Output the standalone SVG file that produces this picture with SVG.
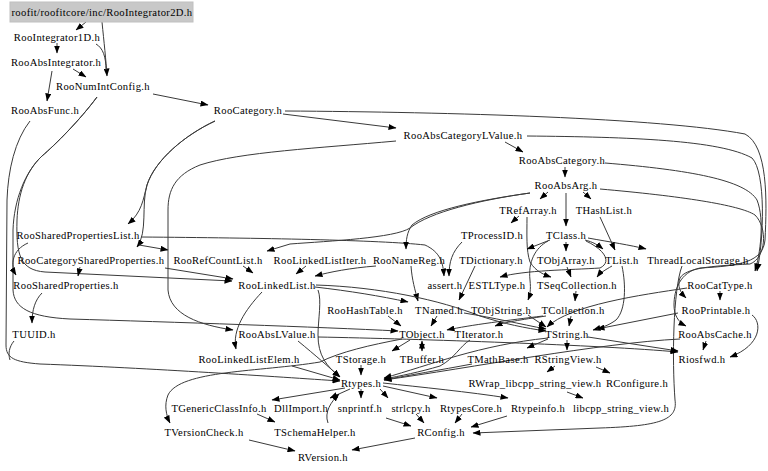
<svg xmlns="http://www.w3.org/2000/svg" width="768" height="471" viewBox="0 0 768 471">
<style>
text{font-family:"Liberation Serif","DejaVu Serif","Times New Roman",serif;font-size:10.6px;letter-spacing:0.35px;fill:#000;text-anchor:middle}
.e path{fill:none;stroke:#3a3a3a;stroke-width:1}
.root rect{fill:#c8c8c8;stroke:#c0c0c0}
</style>
<defs>
<marker id="a" markerWidth="8" markerHeight="6" refX="7.5" refY="3" orient="auto" markerUnits="userSpaceOnUse">
<path d="M0,0 L8,3 L0,6 z" fill="#000"/>
</marker>
<marker id="b" markerWidth="8" markerHeight="6" refX="0.5" refY="3" orient="auto" markerUnits="userSpaceOnUse">
<path d="M8,0 L0,3 L8,6 z" fill="#000"/>
</marker>
</defs>
<rect width="768" height="471" fill="#fff"/>
<g class="e" id="edges">
<path d="M86,22 L76,30" marker-end="url(#a)"/>
<path d="M102,22 C104,42 106,60 107,76" marker-end="url(#a)"/>
<path d="M96,44 C103,48 106,57 106,70"/>
<path d="M57,43 L57,53" marker-end="url(#a)"/>
<path d="M73,69 L86,77" marker-end="url(#a)"/>
<path d="M52,71 L47,101" marker-end="url(#a)"/>
<path d="M153,94 L208,105" marker-end="url(#a)"/>
<path d="M97,97 C80,120 55,145 42,156 C25,172 18,195 17,220 C16,255 20,270 45,272 L232,281" marker-end="url(#a)"/>
<path d="M97,97 C80,120 55,145 42,156 C25,172 14,200 13,230 L13,290 C14,308 30,317 70,319 C170,322 320,327 398,331" marker-end="url(#a)"/>
<path d="M30,121 C15,140 8,170 7,200 L6,345 C6,358 14,362 40,364 C150,368 280,377 340,381" marker-end="url(#a)"/>
<path d="M14,341 C9,347 8,354 10,360"/>
<path d="M283,114 L396,128" marker-end="url(#a)"/>
<path d="M215,121 C185,135 155,160 147,185 C143,200 142,212 128,224" marker-end="url(#a)"/>
<path d="M215,121 C185,135 155,160 147,185 C141,205 148,232 137,247" marker-end="url(#a)"/>
<path d="M139,245 L168,250" marker-end="url(#a)"/>
<path d="M141,237 C260,238 380,240 425,245 C440,252 443,262 444,276" marker-end="url(#a)"/>
<path d="M28,243 C12,250 10,265 16,275" marker-end="url(#a)"/>
<path d="M80,267 L78,276" marker-end="url(#a)"/>
<path d="M165,268 L233,279" marker-end="url(#a)"/>
<path d="M42,293 C35,300 32,310 32,323" marker-end="url(#a)"/>
<path d="M505,142 L523,152" marker-end="url(#a)"/>
<path d="M396,141 C320,148 240,152 200,165 C175,175 168,190 168,210 L168,290 C170,315 200,325 233,330" marker-end="url(#a)"/>
<path d="M527,136 C630,137 720,140 752,158 C766,172 764,240 757,271" marker-end="url(#a)"/>
<path d="M285,111 C450,112 660,118 745,134 C768,146 767,200 765,240 C763,262 740,266 700,268 C680,272 674,290 674,305 C674,315 678,322 686,326" marker-end="url(#a)"/>
<path d="M565,167 L565,177" marker-end="url(#a)"/>
<path d="M605,163 C690,170 745,180 757,200 C765,220 760,255 755,271" marker-end="url(#a)"/>
<path d="M548,192 L540,199" marker-end="url(#a)"/>
<path d="M583,192 L591,199" marker-end="url(#a)"/>
<path d="M566,193 L566,226" marker-end="url(#a)"/>
<path d="M600,189 C680,196 740,205 755,215 C768,228 766,258 750,264 C710,266 686,268 680,278 C677,286 680,292 686,298" marker-end="url(#a)"/>
<path d="M530,193 C480,200 430,210 412,225 C407,232 406,240 406,249" marker-end="url(#a)"/>
<path d="M530,193 C480,200 430,212 410,228 C395,238 330,241 290,244 L267,251" marker-end="url(#a)"/>
<path d="M519,216 L511,223" marker-end="url(#a)"/>
<path d="M527,217 C527,235 526,250 530,262 C536,272 545,275 551,277" marker-end="url(#a)"/>
<path d="M462,242 C452,252 449,262 449,276" marker-end="url(#a)"/>
<path d="M550,240 L527,249" marker-end="url(#a)"/>
<path d="M566,242 L566,251" marker-end="url(#a)"/>
<path d="M585,240 C593,242 598,245 603,249" marker-end="url(#a)"/>
<path d="M588,238 C610,242 630,245 646,249" marker-end="url(#a)"/>
<path d="M548,241 C535,248 528,262 530,280 C531,290 530,295 528,300" marker-end="url(#a)"/>
<path d="M586,241 C605,250 612,262 600,268 C570,270 525,270 500,277" marker-end="url(#a)"/>
<path d="M600,217 L615,250" marker-end="url(#a)"/>
<path d="M475,266 L459,300" marker-end="url(#a)"/>
<path d="M567,267 L571,277" marker-end="url(#a)"/>
<path d="M612,266 C605,270 600,273 597,277" marker-end="url(#a)"/>
<path d="M622,266 C626,285 626,310 616,320 C608,326 600,328 593,330" marker-end="url(#a)"/>
<path d="M682,266 C673,290 672,360 675,400 C678,420 660,426 600,428 L473,433" marker-end="url(#a)"/>
<path d="M576,291 L575,301" marker-end="url(#a)"/>
<path d="M571,316 L569,326" marker-end="url(#a)"/>
<path d="M543,316 C510,320 470,325 447,330" marker-end="url(#a)"/>
<path d="M546,316 C520,320 505,322 495,326" marker-end="url(#a)"/>
<path d="M306,266 L296,274" marker-end="url(#a)"/>
<path d="M243,266 L253,273" marker-end="url(#a)"/>
<path d="M376,266 C350,268 330,272 315,276" marker-end="url(#a)"/>
<path d="M411,266 C412,280 415,290 418,301" marker-end="url(#a)"/>
<path d="M315,287 C350,291 380,296 408,302" marker-end="url(#a)"/>
<path d="M262,292 C245,310 232,330 236,349" marker-end="url(#a)"/>
<path d="M316,285 C380,287 440,300 480,316 C505,324 525,328 546,331" marker-end="url(#a)"/>
<path d="M318,290 C322,300 318,320 318,335 C318,355 326,366 340,377" marker-end="url(#a)"/>
<path d="M388,316 L401,326" marker-end="url(#a)"/>
<path d="M437,316 L431,326" marker-end="url(#a)"/>
<path d="M464,313 C495,318 520,324 546,329" marker-end="url(#a)"/>
<path d="M528,315 L546,327" marker-end="url(#a)"/>
<path d="M410,340 L392,351" marker-end="url(#a)"/>
<path d="M422,341 L422,351" marker-start="url(#b)" marker-end="url(#a)"/>
<path d="M402,339 C370,345 340,352 320,362 C260,372 180,370 168,395 C164,405 166,415 170,423" marker-end="url(#a)"/>
<path d="M318,337 C420,339 600,345 678,352" marker-end="url(#a)"/>
<path d="M298,341 C315,355 330,368 340,377" marker-end="url(#a)"/>
<path d="M292,366 L340,380" marker-end="url(#a)"/>
<path d="M361,365 L361,375" marker-end="url(#a)"/>
<path d="M472,364 C440,370 410,375 384,380" marker-end="url(#a)"/>
<path d="M548,338 C480,345 430,365 384,378" marker-end="url(#a)"/>
<path d="M470,340 C460,346 455,358 440,366 C420,372 400,376 384,379" marker-end="url(#a)"/>
<path d="M548,339 L527,348" marker-end="url(#a)"/>
<path d="M567,340 L567,350" marker-end="url(#a)"/>
<path d="M588,337 L678,351" marker-end="url(#a)"/>
<path d="M555,366 L547,372" marker-end="url(#a)"/>
<path d="M596,367 L610,373" marker-end="url(#a)"/>
<path d="M567,392 L583,398" marker-end="url(#a)"/>
<path d="M345,388 L272,400" marker-end="url(#a)"/>
<path d="M350,389 L330,398" marker-end="url(#a)"/>
<path d="M328,423 C324,412 331,402 339,394" marker-end="url(#a)"/>
<path d="M361,389 L361,398" marker-end="url(#a)"/>
<path d="M380,389 L388,398" marker-end="url(#a)"/>
<path d="M383,386 L437,398" marker-end="url(#a)"/>
<path d="M383,383 C420,387 470,392 508,398" marker-end="url(#a)"/>
<path d="M257,414 L275,422" marker-end="url(#a)"/>
<path d="M249,440 L295,451" marker-end="url(#a)"/>
<path d="M415,438 L352,450" marker-end="url(#a)"/>
<path d="M386,418 L411,426" marker-end="url(#a)"/>
<path d="M416,414 L424,423" marker-end="url(#a)"/>
<path d="M462,414 L455,423" marker-end="url(#a)"/>
<path d="M507,416 L471,427" marker-end="url(#a)"/>
<path d="M720,291 L720,300" marker-end="url(#a)"/>
<path d="M706,341 L703,350" marker-end="url(#a)"/>
<path d="M752,315 C762,322 762,345 730,357" marker-end="url(#a)"/>
<path d="M678,313 L597,329" marker-end="url(#a)"/>
<path d="M687,288 C640,295 570,305 547,327" marker-end="url(#a)"/>
<path d="M680,339 C600,343 470,368 384,380" marker-end="url(#a)"/>
</g>
<g id="n0" class="root"><rect x="10" y="2" width="183" height="20"/><text x="102" y="15.5">roofit/roofitcore/inc/RooIntegrator2D.h</text></g>
<g id="n1"><text x="57" y="40.5">RooIntegrator1D.h</text></g>
<g id="n2"><text x="56" y="65.5">RooAbsIntegrator.h</text></g>
<g id="n3"><text x="103" y="89.5">RooNumIntConfig.h</text></g>
<g id="n4"><text x="45" y="113.5">RooAbsFunc.h</text></g>
<g id="n5"><text x="248" y="113.5">RooCategory.h</text></g>
<g id="n6"><text x="463" y="138.5">RooAbsCategoryLValue.h</text></g>
<g id="n7"><text x="562" y="163.5">RooAbsCategory.h</text></g>
<g id="n8"><text x="566" y="188.5">RooAbsArg.h</text></g>
<g id="n9"><text x="528" y="213.5">TRefArray.h</text></g>
<g id="n10"><text x="604" y="213.5">THashList.h</text></g>
<g id="n11"><text x="492" y="238.5">TProcessID.h</text></g>
<g id="n12"><text x="566" y="238.5">TClass.h</text></g>
<g id="n13"><text x="78" y="238.5">RooSharedPropertiesList.h</text></g>
<g id="n14"><text x="91" y="263.5">RooCategorySharedProperties.h</text></g>
<g id="n15"><text x="218" y="263.5">RooRefCountList.h</text></g>
<g id="n16"><text x="320" y="263.5">RooLinkedListIter.h</text></g>
<g id="n17"><text x="409" y="263.5">RooNameReg.h</text></g>
<g id="n18"><text x="491" y="263.5">TDictionary.h</text></g>
<g id="n19"><text x="566" y="263.5">TObjArray.h</text></g>
<g id="n20"><text x="622" y="263.5">TList.h</text></g>
<g id="n21"><text x="698" y="263.5">ThreadLocalStorage.h</text></g>
<g id="n22"><text x="66" y="288.5">RooSharedProperties.h</text></g>
<g id="n23"><text x="277" y="288.5">RooLinkedList.h</text></g>
<g id="n24"><text x="445" y="288.5">assert.h</text></g>
<g id="n25"><text x="497" y="288.5">ESTLType.h</text></g>
<g id="n26"><text x="577" y="288.5">TSeqCollection.h</text></g>
<g id="n27"><text x="720" y="288.5">RooCatType.h</text></g>
<g id="n28"><text x="365" y="313.5">RooHashTable.h</text></g>
<g id="n29"><text x="439" y="313.5">TNamed.h</text></g>
<g id="n30"><text x="501" y="313.5">TObjString.h</text></g>
<g id="n31"><text x="573" y="313.5">TCollection.h</text></g>
<g id="n32"><text x="716" y="313.5">RooPrintable.h</text></g>
<g id="n33"><text x="34" y="337.5">TUUID.h</text></g>
<g id="n34"><text x="277" y="337.5">RooAbsLValue.h</text></g>
<g id="n35"><text x="422" y="337.5">TObject.h</text></g>
<g id="n36"><text x="479" y="337.5">TIterator.h</text></g>
<g id="n37"><text x="567" y="337.5">TString.h</text></g>
<g id="n38"><text x="715" y="337.5">RooAbsCache.h</text></g>
<g id="n39"><text x="249" y="362.5">RooLinkedListElem.h</text></g>
<g id="n40"><text x="361" y="362.5">TStorage.h</text></g>
<g id="n41"><text x="422" y="362.5">TBuffer.h</text></g>
<g id="n42"><text x="498" y="362.5">TMathBase.h</text></g>
<g id="n43"><text x="568" y="362.5">RStringView.h</text></g>
<g id="n44"><text x="702" y="362.5">Riosfwd.h</text></g>
<g id="n45"><text x="361" y="386.5">Rtypes.h</text></g>
<g id="n46"><text x="535" y="386.5">RWrap_libcpp_string_view.h</text></g>
<g id="n47"><text x="637" y="386.5">RConfigure.h</text></g>
<g id="n48"><text x="219" y="411.5">TGenericClassInfo.h</text></g>
<g id="n49"><text x="301" y="411.5">DllImport.h</text></g>
<g id="n50"><text x="360" y="411.5">snprintf.h</text></g>
<g id="n51"><text x="411" y="411.5">strlcpy.h</text></g>
<g id="n52"><text x="471" y="411.5">RtypesCore.h</text></g>
<g id="n53"><text x="538" y="411.5">Rtypeinfo.h</text></g>
<g id="n54"><text x="621" y="411.5">libcpp_string_view.h</text></g>
<g id="n55"><text x="204" y="435.5">TVersionCheck.h</text></g>
<g id="n56"><text x="315" y="435.5">TSchemaHelper.h</text></g>
<g id="n57"><text x="441" y="435.5">RConfig.h</text></g>
<g id="n58"><text x="323" y="460.5">RVersion.h</text></g>
</svg>
